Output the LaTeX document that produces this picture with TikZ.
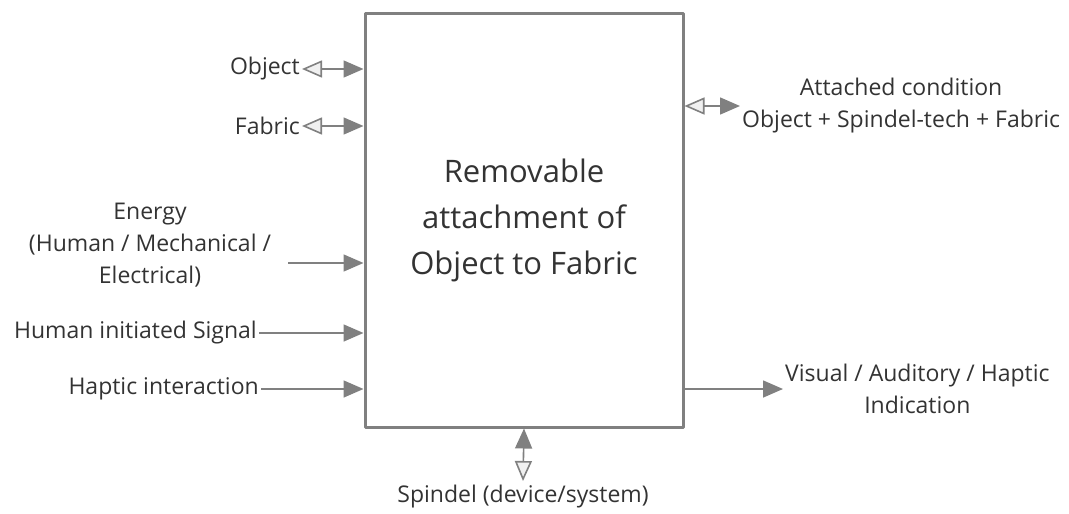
\documentclass[tikz,border=0pt]{standalone}
\usepackage{fontspec}
\setmainfont{Open Sans}
\usetikzlibrary{arrows.meta}

\definecolor{linegray}{HTML}{808080}
\definecolor{txtgray}{HTML}{333333}

\tikzset{
  lbl/.style={font=\fontsize{23}{32}\selectfont,text=txtgray,inner sep=2pt,align=center},
  fulltip/.tip={Triangle[length=20pt,width=17pt,fill=linegray]},
  opentip/.tip={Triangle[length=20pt,width=17pt,fill=black!6]},
  flow/.style={draw=linegray,line width=1.6pt,-fulltip},
  both/.style={draw=linegray,line width=1.6pt,opentip-fulltip},
}

\begin{document}
\begin{tikzpicture}[x=1pt,y=-1pt,line join=round]
\useasboundingbox (0,0) rectangle (1069,514);

% the function block
\node[draw=linegray,line width=3pt,minimum width=318pt,minimum height=414pt,
      font=\fontsize{31}{46}\selectfont,text=txtgray,align=center]
  (box) at (524,220) {Removable\\attachment of\\Object to Fabric};

% inputs on the left
\node[lbl,anchor=east] (obj) at (302,69) {Object};
\node[lbl,anchor=east] (fab) at (302,126) {Fabric};
\node[lbl] (nrg) at (150,245) {Energy\\(Human / Mechanical /\\Electrical)};
\node[lbl,anchor=east] (sig) at (259,333) {Human initiated Signal};
\node[lbl,anchor=east] (hap) at (261,389) {Haptic interaction};
\coordinate (nrgin) at (288,263);

\draw[both] (obj.east) -- (obj.east -| box.west);
\draw[both] (fab.east) -- (fab.east -| box.west);
\draw[flow] (nrgin) -- (nrgin -| box.west);
\draw[flow] (sig.east) -- (sig.east -| box.west);
\draw[flow] (hap.east) -- (hap.east -| box.west);

% outputs on the right
\node[lbl,anchor=west] (att) at (740,106) {Attached condition\\Object + Spindel-tech + Fabric};
\node[lbl,anchor=west] (ind) at (783,389) {Visual / Auditory / Haptic\\Indication};

\draw[both] (att.west -| box.east) -- (att.west);
\draw[flow] (ind.west -| box.east) -- (ind.west);

% device below
\node[lbl] (spd) at (523,497) {Spindel (device/system)};
\coordinate (spdtip) at (523,481);
\draw[draw=linegray,line width=1.6pt,fulltip-opentip] (box.south) -- (spdtip);
\end{tikzpicture}
\end{document}
